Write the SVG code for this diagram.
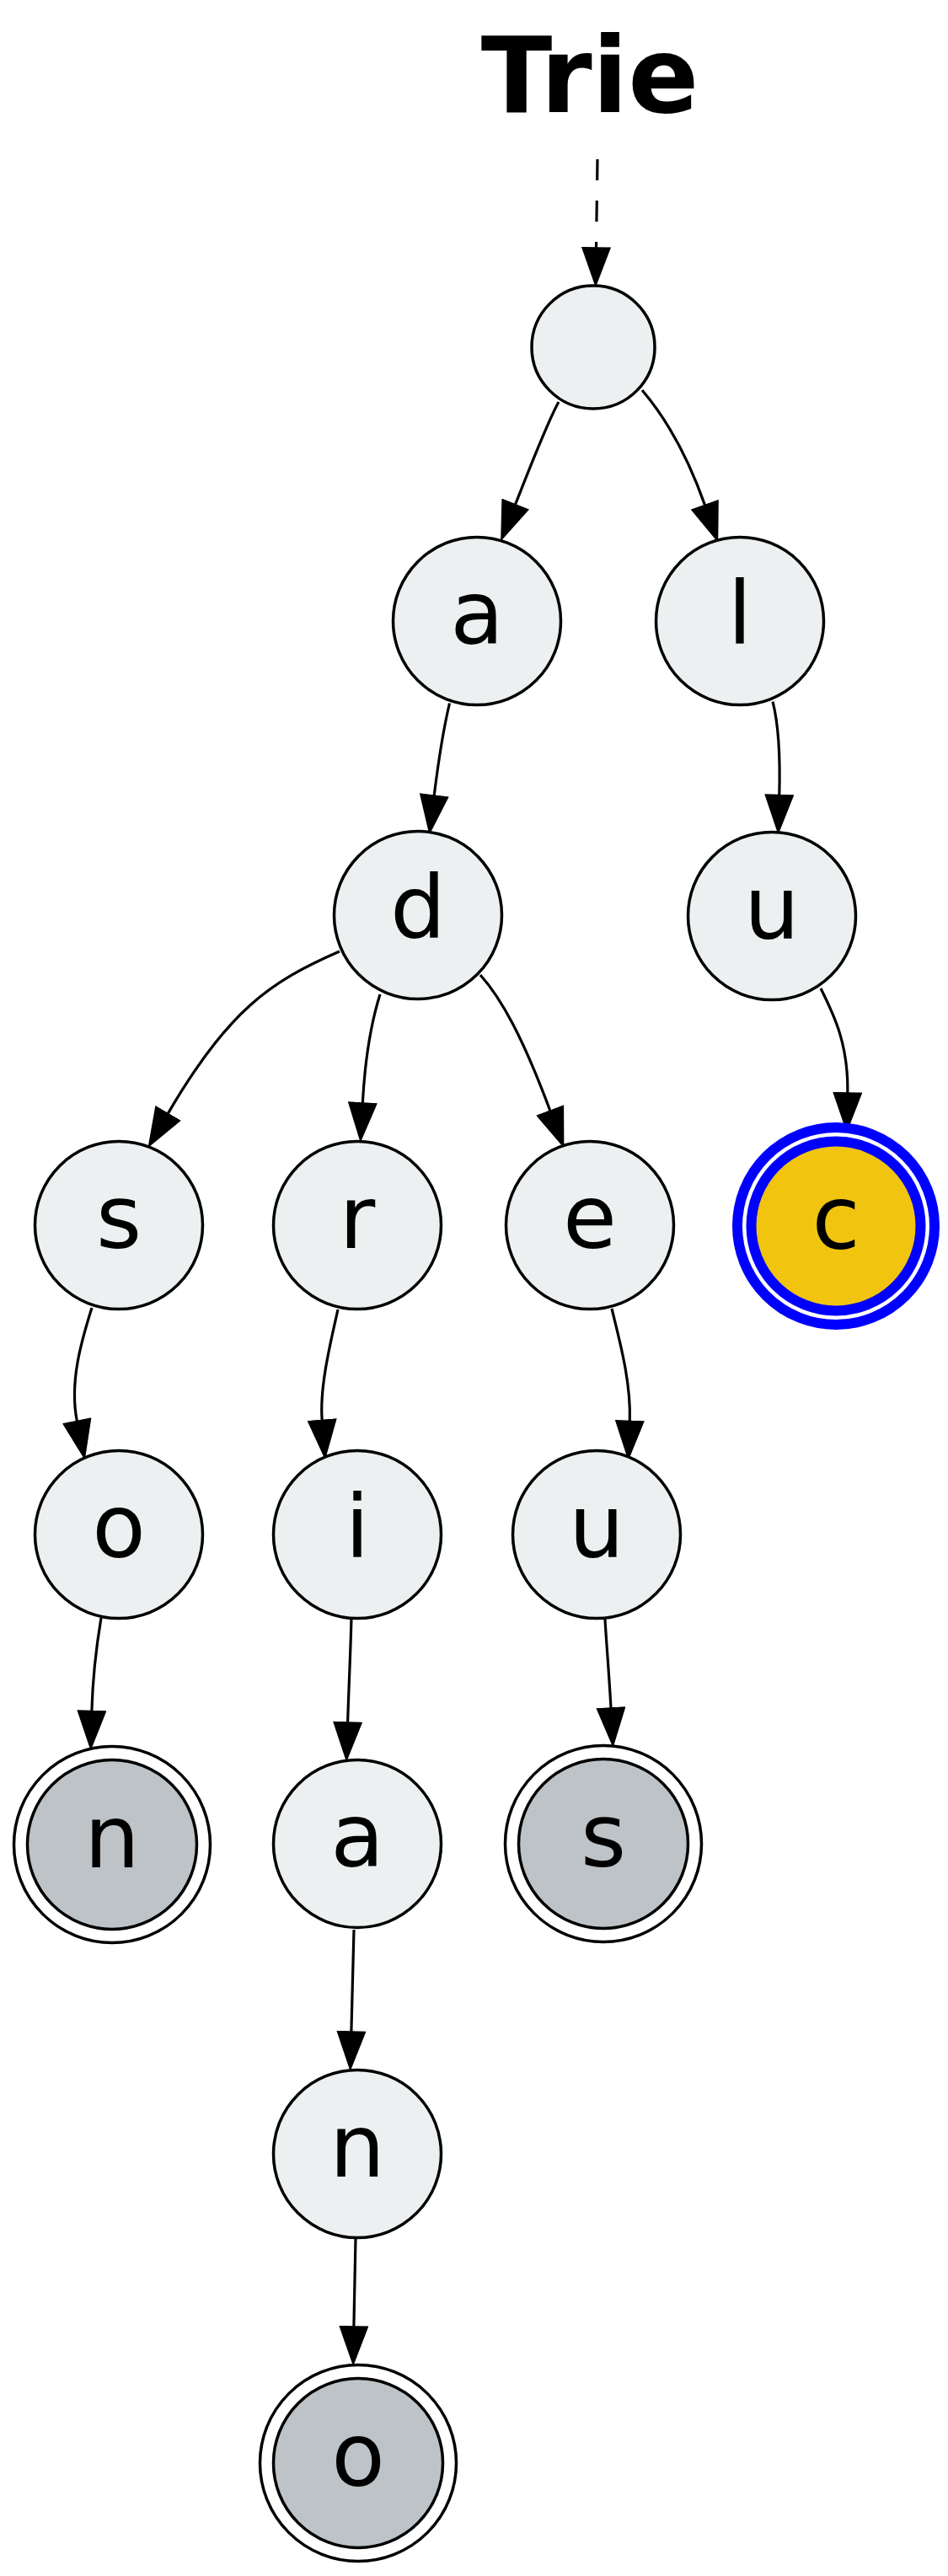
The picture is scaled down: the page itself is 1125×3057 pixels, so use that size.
<svg xmlns="http://www.w3.org/2000/svg" width="1125" height="3057" viewBox="0 0 1125 3057">
  <style>
    .node { fill: #ECF0F1; stroke: #000; stroke-width: 3.5; }
    .leaf { fill: #BDC3C7; stroke: #000; stroke-width: 3.5; }
    .ring { fill: none; stroke: #000; stroke-width: 3.5; }
    .hl-ring { fill: none; stroke: #0000FF; stroke-width: 12; }
    .hl-fill { fill: #F1C40F; stroke: #0000FF; stroke-width: 12; }
    .label { font-family: "DejaVu Sans", "Liberation Sans", sans-serif; font-size: 104px; text-anchor: middle; fill: #000; }
    .title { font-family: "DejaVu Sans", "Liberation Sans", sans-serif; font-size: 124px; font-weight: bold; text-anchor: middle; fill: #000; }
    .edge { fill: none; stroke: #000; stroke-width: 3.2; marker-end: url(#arrow); }
    .start { fill: none; stroke: #000; stroke-width: 3.2; stroke-dasharray: 25 24; marker-end: url(#arrow); }
  </style>
  <defs>
    <marker id="arrow" markerUnits="userSpaceOnUse" markerWidth="47" markerHeight="35" viewBox="0 0 47 35" refX="1" refY="17.5" orient="auto">
      <path d="M1,1 L46,17.5 L1,34 Z" fill="#000" stroke="#000" stroke-width="1.5"/>
    </marker>
  </defs>
  <rect width="1125" height="3057" fill="#fff"/>

  <text class="title" x="700" y="133">Trie</text>

  <g id="connectors">
    <path class="start" d="M709,189 L707.5,294"/>
    <path id="e-root-a" class="edge" d="M663,477 C650,500 630,552 611.5,598.7"/>
    <path id="e-root-l" class="edge" d="M762,463 C785,490 812,530 836.5,599.4"/>
    <path id="e-a-d" class="edge" d="M533.5,834.5 C527,862 520,905 515.2,944.1"/>
    <path id="e-l-u" class="edge" d="M917,832.6 C924,860 926,900 924.8,943.5"/>
    <path id="e-d-s" class="edge" d="M403,1129 C320,1165 270,1200 199.2,1321.6"/>
    <path id="e-d-r" class="edge" d="M451,1180 C440,1215 433,1260 430.3,1309"/>
    <path id="e-d-e" class="edge" d="M570,1157 C595,1185 620,1230 652.9,1318.2"/>
    <path id="e-u-c" class="edge" d="M974,1173 C990,1205 1007,1240 1005.8,1297"/>
    <path id="e-s-o" class="edge" d="M109,1552 C97,1590 82,1640 91.4,1686.5"/>
    <path id="e-r-i" class="edge" d="M401,1554 C393,1590 379,1645 382.2,1685.5"/>
    <path id="e-e-u2" class="edge" d="M726,1553 C735,1590 749,1640 747.3,1686.4"/>
    <path id="e-o-n" class="edge" d="M120,1920 C115,1950 110,1990 108.9,2030.5"/>
    <path id="e-i-a2" class="edge" d="M417,1920 C416,1960 414,2000 412.6,2044"/>
    <path id="e-u2-s2" class="edge" d="M718,1922 C720,1955 723,1990 725,2027"/>
    <path id="e-a2-n2" class="edge" d="M420,2290 C419,2330 418,2370 416.9,2411"/>
    <path id="e-n2-o2" class="edge" d="M422,2656 C421,2690 420.5,2725 419.9,2761"/>
  </g>

  <g id="node-root">
    <circle class="node" cx="704" cy="412" r="73"/>
  </g>
  <g id="node-a">
    <circle class="node" cx="566" cy="737" r="99.5"/>
    <text class="label" x="566" y="764">a</text>
  </g>
  <g id="node-l">
    <circle class="node" cx="878" cy="737" r="99.5"/>
    <text class="label" x="878" y="764">l</text>
  </g>
  <g id="node-d">
    <circle class="node" cx="496" cy="1086" r="99.5"/>
    <text class="label" x="496" y="1113">d</text>
  </g>
  <g id="node-u">
    <circle class="node" cx="916" cy="1087" r="99.5"/>
    <text class="label" x="916" y="1114">u</text>
  </g>
  <g id="node-s">
    <circle class="node" cx="141" cy="1454" r="99.5"/>
    <text class="label" x="141" y="1481">s</text>
  </g>
  <g id="node-r">
    <circle class="node" cx="424" cy="1454" r="99.5"/>
    <text class="label" x="424" y="1481">r</text>
  </g>
  <g id="node-e">
    <circle class="node" cx="700" cy="1454" r="99.5"/>
    <text class="label" x="700" y="1481">e</text>
  </g>
  <g id="node-c">
    <circle class="hl-ring" cx="992" cy="1455" r="117"/>
    <circle class="hl-fill" cx="992" cy="1455" r="100.5"/>
    <text class="label" x="992" y="1482">c</text>
  </g>
  <g id="node-o">
    <circle class="node" cx="141" cy="1821" r="99.5"/>
    <text class="label" x="141" y="1848">o</text>
  </g>
  <g id="node-i">
    <circle class="node" cx="424" cy="1821" r="99.5"/>
    <text class="label" x="424" y="1848">i</text>
  </g>
  <g id="node-u2">
    <circle class="node" cx="708" cy="1821" r="99.5"/>
    <text class="label" x="708" y="1848">u</text>
  </g>
  <g id="node-n">
    <circle class="ring" cx="133" cy="2189" r="116.5"/>
    <circle class="leaf" cx="133" cy="2189" r="100.5"/>
    <text class="label" x="133" y="2216">n</text>
  </g>
  <g id="node-a2">
    <circle class="node" cx="424" cy="2188" r="99.5"/>
    <text class="label" x="424" y="2215">a</text>
  </g>
  <g id="node-s2">
    <circle class="ring" cx="716" cy="2188" r="116.5"/>
    <circle class="leaf" cx="716" cy="2188" r="100.5"/>
    <text class="label" x="716" y="2215">s</text>
  </g>
  <g id="node-n2">
    <circle class="node" cx="424" cy="2556" r="99.5"/>
    <text class="label" x="424" y="2583">n</text>
  </g>
  <g id="node-o2">
    <circle class="ring" cx="425" cy="2923" r="116.5"/>
    <circle class="leaf" cx="425" cy="2923" r="100.5"/>
    <text class="label" x="425" y="2950">o</text>
  </g>
</svg>
